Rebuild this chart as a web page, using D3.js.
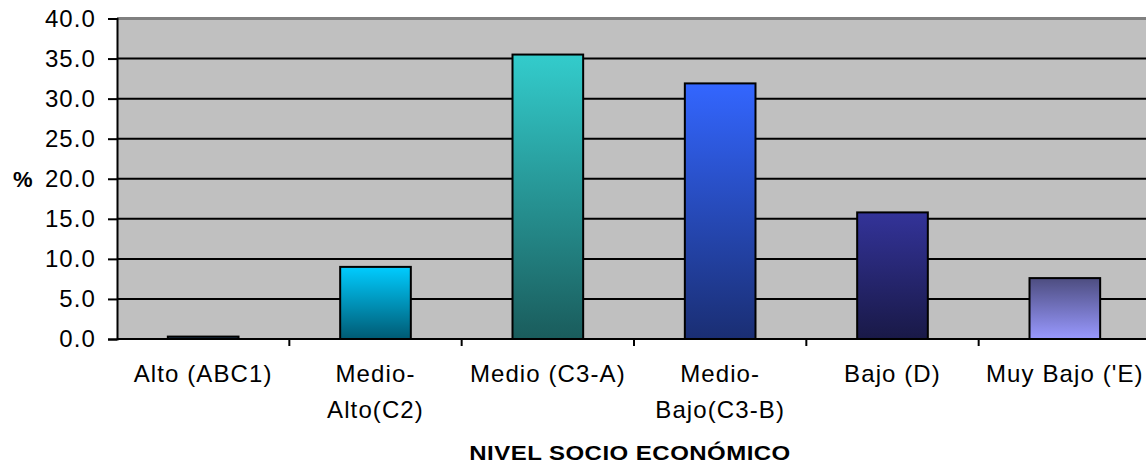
<!DOCTYPE html>
<html>
<head>
<meta charset="utf-8">
<script src="https://cdn.jsdelivr.net/npm/d3@7"></script>
<style>
  html, body { margin: 0; padding: 0; background: #ffffff; }
  svg { display: block; }
  text { font-family: "Liberation Sans", Arial, sans-serif; fill: #000; }
</style>
</head>
<body>
<svg id="chart" width="1146" height="467"></svg>
<script>
// Nivel socioeconómico: percentage per group
const categories = ["Alto (ABC1)", "Medio-Alto(C2)", "Medio (C3-A)", "Medio-Bajo(C3-B)", "Bajo (D)", "Muy Bajo ('E)"];
const labelLines = [["Alto (ABC1)"], ["Medio-", "Alto(C2)"], ["Medio (C3-A)"], ["Medio-", "Bajo(C3-B)"], ["Bajo (D)"], ["Muy Bajo ('E)"]];
const values = [0.3, 9.0, 35.5, 31.9, 15.8, 7.6];
const yTicks = [0, 5, 10, 15, 20, 25, 30, 35, 40];
const gradTop = ["#33669a", "#00ccff", "#33cccc", "#3366ff", "#333399", "#4d4d80"];
const gradBottom = ["#000000", "#005a73", "#1a5c5c", "#1a2e73", "#191947", "#9999ff"];
const xTitle = "NIVEL SOCIO ECONÓMICO";
const yTitle = "%";

const svg = d3.select("#chart");
const plot = { left: 117, top: 18.5, right: 1151, bottom: 339 };

const y = d3.scaleLinear().domain([0, 40]).range([plot.bottom, plot.top]);
const xBand = d3.scaleBand().domain(categories).range([plot.left, plot.right]).padding(0);
const xBar = d3.scaleBand().domain(categories).range([plot.left, plot.right])
  .paddingInner(0.59).paddingOuter(0.295);

// gradients
const defs = svg.append("defs");
categories.forEach((c, i) => {
  const g = defs.append("linearGradient").attr("id", "g" + i)
    .attr("x1", 0).attr("y1", 0).attr("x2", 0).attr("y2", 1);
  g.append("stop").attr("offset", "0%").attr("stop-color", gradTop[i]);
  g.append("stop").attr("offset", "100%").attr("stop-color", gradBottom[i]);
});

// plot background
svg.append("rect")
  .attr("x", plot.left).attr("y", plot.top)
  .attr("width", plot.right - plot.left).attr("height", plot.bottom - plot.top)
  .attr("fill", "#c0c0c0");

// top border
svg.append("line")
  .attr("x1", plot.left).attr("x2", plot.right)
  .attr("y1", plot.top).attr("y2", plot.top)
  .attr("stroke", "#808080").attr("stroke-width", 3);

// gridlines
svg.append("g").selectAll("line")
  .data(yTicks.filter(t => t > 0 && t < 40))
  .join("line")
  .attr("x1", plot.left).attr("x2", plot.right)
  .attr("y1", d => y(d)).attr("y2", d => y(d))
  .attr("stroke", "#000").attr("stroke-width", 2);

// bars
svg.append("g").selectAll("rect")
  .data(values)
  .join("rect")
  .attr("x", (d, i) => xBar(categories[i]))
  .attr("width", xBar.bandwidth())
  .attr("y", d => y(d))
  .attr("height", d => y(0) - y(d))
  .attr("fill", (d, i) => `url(#g${i})`)
  .attr("stroke", "#000")
  .attr("stroke-width", 2);

// y axis
const yAxis = d3.axisLeft(y).tickValues(yTicks).tickFormat(d3.format(".1f")).tickSize(9).tickPadding(12);
const gy = svg.append("g").attr("transform", `translate(${plot.left},0)`).call(yAxis);
gy.select(".domain").attr("stroke", "#000").attr("stroke-width", 2);
gy.selectAll(".tick line").attr("stroke", "#000").attr("stroke-width", 2);
gy.selectAll(".tick text")
  .style("font-family", "'Liberation Sans', Arial, sans-serif")
  .style("font-size", "24px").style("letter-spacing", "1.1px").attr("fill", "#000");

// x axis line and tick marks at band boundaries
svg.append("line")
  .attr("x1", plot.left).attr("x2", plot.right)
  .attr("y1", plot.bottom).attr("y2", plot.bottom)
  .attr("stroke", "#000").attr("stroke-width", 2);
svg.append("g").selectAll("line")
  .data(categories.slice(1))
  .join("line")
  .attr("x1", d => xBand(d)).attr("x2", d => xBand(d))
  .attr("y1", plot.bottom).attr("y2", plot.bottom + 7)
  .attr("stroke", "#000").attr("stroke-width", 2);

// category labels
const labels = svg.append("g").selectAll("text")
  .data(categories)
  .join("text")
  .attr("text-anchor", "middle")
  .attr("x", d => xBand(d) + xBand.bandwidth() / 2)
  .attr("y", 382)
  .style("font-size", "24px").style("letter-spacing", "1.1px");
labels.each(function (d, i) {
  const t = d3.select(this);
  labelLines[i].forEach((line, j) => {
    t.append("tspan")
      .attr("x", xBand(d) + xBand.bandwidth() / 2)
      .attr("dy", j === 0 ? 0 : 36)
      .text(line);
  });
});

// axis titles (the x title is set in a horizontally widened bold face)
svg.append("text")
  .attr("transform", "translate(630,460) scale(1.2,1)")
  .attr("text-anchor", "middle")
  .style("font-size", "20px").style("font-weight", "bold").style("letter-spacing", "0.4px")
  .text(xTitle);

svg.append("text")
  .attr("x", 13).attr("y", 187)
  .style("font-size", "22px").style("font-weight", "bold")
  .text(yTitle);
</script>
</body>
</html>
